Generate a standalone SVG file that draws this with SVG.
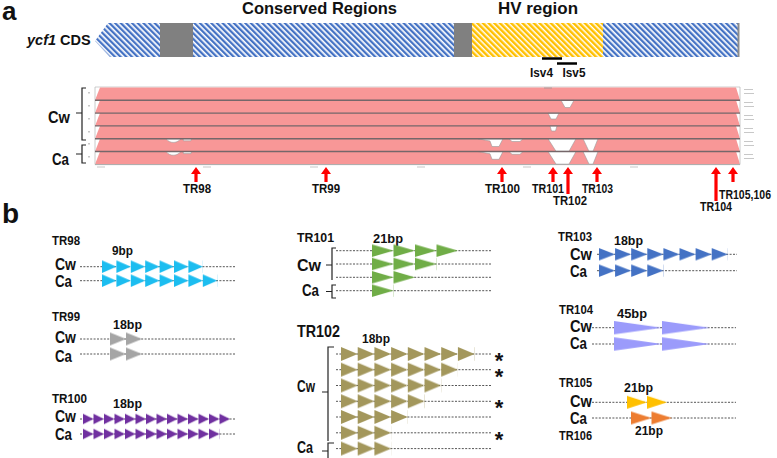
<svg xmlns="http://www.w3.org/2000/svg" width="777" height="458" viewBox="0 0 777 458">
<style>
.t{font-family:"Liberation Sans",Arial,sans-serif;font-weight:bold;fill:#111}
.dash{stroke:#555;stroke-width:1;stroke-dasharray:2 1.4;fill:none}
.br{stroke:#222;stroke-width:1.2;fill:none}
.gap{fill:#fff;stroke:#9a9a9a;stroke-width:0.6}
.sep{stroke:#75676a;stroke-width:1.4}
.arrow{fill:#ff0000}
.tiny{fill:#c8c8c8}
</style>
<defs>
<pattern id="hatchBlue" width="4" height="4" patternUnits="userSpaceOnUse" patternTransform="rotate(-45)">
<rect width="4" height="4" fill="#ffffff"/><rect width="2.3" height="4" fill="#4472C4"/>
</pattern>
<pattern id="hatchYellow" width="4" height="4" patternUnits="userSpaceOnUse" patternTransform="rotate(-45)">
<rect width="4" height="4" fill="#ffffff"/><rect width="2.5" height="4" fill="#FFC000"/>
</pattern>
<pattern id="p98" width="14.4" height="12.6" patternUnits="userSpaceOnUse"><polygon points="0,0 14.4,6.3 0,12.6" fill="#1CBDF0"/></pattern>
<pattern id="p99" width="16" height="13" patternUnits="userSpaceOnUse"><polygon points="0,0 16,6.5 0,13" fill="#A5A5A5"/></pattern>
<pattern id="p100" width="10.5" height="10.5" patternUnits="userSpaceOnUse"><polygon points="0,0 10.5,5.25 0,10.5" fill="#7030A0"/></pattern>
<pattern id="p101" width="21.5" height="12.5" patternUnits="userSpaceOnUse"><polygon points="0,0 21.5,6.25 0,12.5" fill="#70AD47"/></pattern>
<pattern id="p102" width="16.7" height="14" patternUnits="userSpaceOnUse"><polygon points="0,0 16.7,7 0,14" fill="#A3975C"/></pattern>
<pattern id="p103" width="16.1" height="12.4" patternUnits="userSpaceOnUse"><polygon points="0,0 16.1,6.2 0,12.4" fill="#4472C4"/></pattern>
<pattern id="p104" width="48" height="13.4" patternUnits="userSpaceOnUse"><polygon points="0,0 48,6.7 0,13.4" fill="#9B9BFB"/></pattern>
<pattern id="p105" width="20" height="13" patternUnits="userSpaceOnUse"><polygon points="0,0 20,6.5 0,13" fill="#FFC000"/></pattern>
<pattern id="p106" width="20.5" height="13" patternUnits="userSpaceOnUse"><polygon points="0,0 20.5,6.5 0,13" fill="#ED7D31"/></pattern>
</defs>

<rect width="777" height="458" fill="#ffffff"/>

<!-- panel a -->
<g id="label-a"><text class="t" x="2" y="20" font-size="26">a</text></g>
<g id="region-titles">
<text class="t" x="242" y="14" font-size="16.5" textLength="155" lengthAdjust="spacingAndGlyphs">Conserved Regions</text>
<text class="t" x="498" y="14" font-size="16.5" textLength="80" lengthAdjust="spacingAndGlyphs">HV region</text>
</g>
<g id="cds">
<text class="t" x="27" y="45" font-size="14.5"><tspan font-style="italic">ycf1</tspan> CDS</text>
<polygon points="108,23 738,23 738,57 110,57 95,41" fill="url(#hatchBlue)"/>
<rect x="160" y="23" width="33" height="34" fill="#808080"/>
<rect x="454" y="23" width="18" height="34" fill="#808080"/>
<rect x="472" y="23" width="131" height="34" fill="url(#hatchYellow)"/>
<rect x="737.5" y="23" width="2" height="34" fill="#8c8c8c"/>
</g>
<g id="isv">
<line x1="542" y1="58.5" x2="562" y2="58.5" stroke="#000" stroke-width="2.5"/>
<line x1="557" y1="63.5" x2="577" y2="63.5" stroke="#000" stroke-width="2.5"/>
<text class="t" x="541.5" y="77" font-size="13" text-anchor="middle" textLength="23" lengthAdjust="spacingAndGlyphs">Isv4</text>
<text class="t" x="574" y="77" font-size="13" text-anchor="middle" textLength="23" lengthAdjust="spacingAndGlyphs">Isv5</text>
</g>

<g id="alignment">
<line x1="95" y1="87" x2="740" y2="87" stroke="#cfcfcf" stroke-width="1"/>
<polygon points="95,100.3 100,87.5 736,87.5 740,100.3" fill="#F89797"/>
<polygon points="95,113.1 100,100.3 736,100.3 740,113.1" fill="#F89797"/>
<polygon points="95,125.9 100,113.1 736,113.1 740,125.9" fill="#F89797"/>
<polygon points="95,138.7 100,125.9 736,125.9 740,138.7" fill="#F89797"/>
<polygon points="95,151.5 100,138.7 736,138.7 740,151.5" fill="#F89797"/>
<polygon points="95,164.3 100,151.5 736,151.5 740,164.3" fill="#F89797"/>
<line x1="95" y1="87" x2="95" y2="164.5" stroke="#bdbdbd" stroke-width="0.8"/>
<line x1="740" y1="87" x2="740" y2="164.5" stroke="#bdbdbd" stroke-width="0.8"/>
<!-- gaps -->
<line x1="544" y1="88" x2="552" y2="88" stroke="#9a9a9a" stroke-width="0.8"/>
<path class="gap" d="M561,100.3 L565,107.5 L570,107.5 L574,100.3 Z"/>
<path class="gap" d="M548,113.1 L551,119 L556,119 L559,113.1 Z"/>
<path class="gap" d="M550,125.9 L551.5,131 L555.5,131 L557,125.9 Z"/>
<g id="gaps-ca1">
<path class="gap" d="M166,138.7 C168,141.5 171,142.6 174,142.4 C177,142.2 179,140.8 181,138.7 Z"/>
<path class="gap" d="M183,138.7 L183.5,140.8 L191,140.8 L191.5,138.7 Z"/>
<path class="gap" d="M478,138.7 L487,140.5 L490,141 L492,146.5 L499,146.5 L503,138.7 Z"/>
<path class="gap" d="M509,138.7 L512,141.5 L520,141.5 L523,138.7 Z"/>
<path class="gap" d="M548,138.7 L556,151.3 L569,151.3 L576,138.7 Z"/>
<path class="gap" d="M583,138.7 L589,151.3 L593,151.3 L598,138.7 Z"/>
</g>
<use href="#gaps-ca1" transform="translate(0,12.8)"/>
<line class="sep" x1="95" y1="100.3" x2="740" y2="100.3"/>
<line class="sep" x1="95" y1="113.1" x2="740" y2="113.1"/>
<line class="sep" x1="95" y1="125.9" x2="740" y2="125.9"/>
<line class="sep" x1="95" y1="138.7" x2="740" y2="138.7"/>
<line class="sep" x1="95" y1="151.5" x2="740" y2="151.5"/>
<line x1="95" y1="164.6" x2="740" y2="164.6" stroke="#a8a8a8" stroke-width="1"/>
<!-- row markers and axis ticks -->
<rect class="tiny" x="88" y="92" width="2" height="1.5"/>
<rect class="tiny" x="88" y="105" width="2" height="1.5"/>
<rect class="tiny" x="88" y="118" width="2" height="1.5"/>
<rect class="tiny" x="88" y="131" width="2" height="1.5"/>
<rect class="tiny" x="88" y="143" width="2" height="1.5"/>
<rect class="tiny" x="88" y="156" width="2" height="1.5"/>
<rect class="tiny" x="744" y="89" width="9" height="1"/><rect class="tiny" x="744" y="93" width="10" height="1"/>
<rect class="tiny" x="744" y="102" width="9" height="1"/><rect class="tiny" x="744" y="106" width="10" height="1"/>
<rect class="tiny" x="744" y="115" width="9" height="1"/><rect class="tiny" x="744" y="119" width="10" height="1"/>
<rect class="tiny" x="744" y="128" width="9" height="1"/><rect class="tiny" x="744" y="132" width="10" height="1"/>
<rect class="tiny" x="744" y="141" width="9" height="1"/><rect class="tiny" x="744" y="145" width="10" height="1"/>
<rect class="tiny" x="744" y="154" width="9" height="1"/><rect class="tiny" x="744" y="158" width="10" height="1"/>
<rect class="tiny" x="97" y="166.5" width="8" height="1"/>
<rect class="tiny" x="203" y="166.5" width="8" height="1"/>
<rect class="tiny" x="310" y="166.5" width="8" height="1"/>
<rect class="tiny" x="417" y="166.5" width="8" height="1"/>
<rect class="tiny" x="523" y="166.5" width="8" height="1"/>
<rect class="tiny" x="630" y="166.5" width="8" height="1"/>
</g>
<g id="groups-a">
<path class="br" d="M86,88 H82 V140 H86 M76,113 H82"/>
<path class="br" d="M86,145 H82 V163 H86 M76,154 H82"/>
<text class="t" x="48" y="123" font-size="17" textLength="22" lengthAdjust="spacingAndGlyphs">Cw</text>
<text class="t" x="52" y="165" font-size="17" textLength="17" lengthAdjust="spacingAndGlyphs">Ca</text>
</g>

<g id="connectors">
<polygon class="arrow" points="196,167 201,174 197.6,174 197.6,182 194.4,182 194.4,174 191,174"/>
<polygon class="arrow" points="326,167 331,174 327.6,174 327.6,182 324.4,182 324.4,174 321,174"/>
<polygon class="arrow" points="502,167 507,174 503.6,174 503.6,182 500.4,182 500.4,174 497,174"/>
<polygon class="arrow" points="553,167 558,174 554.6,174 554.6,182 551.4,182 551.4,174 548,174"/>
<polygon class="arrow" points="568,167 573,174 569.6,174 569.6,194 566.4,194 566.4,174 563,174"/>
<polygon class="arrow" points="597,167 602,174 598.6,174 598.6,182 595.4,182 595.4,174 592,174"/>
<polygon class="arrow" points="716,167 721,174 717.6,174 717.6,201 714.4,201 714.4,174 711,174"/>
<polygon class="arrow" points="733,167 738,174 734.6,174 734.6,182 731.4,182 731.4,174 728,174"/>
</g>
<g id="tr-labels-a">
<text class="t" x="197" y="193" font-size="13.5" text-anchor="middle" textLength="28" lengthAdjust="spacingAndGlyphs">TR98</text>
<text class="t" x="326" y="193" font-size="13.5" text-anchor="middle" textLength="28" lengthAdjust="spacingAndGlyphs">TR99</text>
<text class="t" x="502.5" y="193" font-size="13.5" text-anchor="middle" textLength="35" lengthAdjust="spacingAndGlyphs">TR100</text>
<text class="t" x="548" y="193" font-size="13.5" text-anchor="middle" textLength="32" lengthAdjust="spacingAndGlyphs">TR101</text>
<text class="t" x="570" y="205" font-size="13.5" text-anchor="middle" textLength="34" lengthAdjust="spacingAndGlyphs">TR102</text>
<text class="t" x="597.5" y="193" font-size="13.5" text-anchor="middle" textLength="31" lengthAdjust="spacingAndGlyphs">TR103</text>
<text class="t" x="716" y="211" font-size="13.5" text-anchor="middle" textLength="32" lengthAdjust="spacingAndGlyphs">TR104</text>
<text class="t" x="719" y="199" font-size="13.5" textLength="52" lengthAdjust="spacingAndGlyphs">TR105,106</text>
</g>

<!-- panel b -->
<g id="label-b"><text class="t" x="2" y="223" font-size="28">b</text></g>

<g id="tr98">
<text class="t" x="52" y="245" font-size="13.5" textLength="28" lengthAdjust="spacingAndGlyphs">TR98</text>
<text class="t" x="112" y="255" font-size="13.5" textLength="21" lengthAdjust="spacingAndGlyphs">9bp</text>
<text class="t" x="55" y="270" font-size="17" textLength="21" lengthAdjust="spacingAndGlyphs">Cw</text>
<text class="t" x="55" y="287" font-size="17" textLength="17" lengthAdjust="spacingAndGlyphs">Ca</text>
<line class="dash" x1="80" y1="266.7" x2="235" y2="266.7"/>
<line class="dash" x1="80" y1="280.7" x2="235" y2="280.7"/>
<rect transform="translate(102,260.4)" width="100.8" height="12.6" fill="url(#p98)"/>
<rect transform="translate(102,274.4)" width="115.2" height="12.6" fill="url(#p98)"/>
</g>

<g id="tr99">
<text class="t" x="52" y="321" font-size="13.5" textLength="28" lengthAdjust="spacingAndGlyphs">TR99</text>
<text class="t" x="113" y="329" font-size="13.5" textLength="29" lengthAdjust="spacingAndGlyphs">18bp</text>
<text class="t" x="55" y="343" font-size="17" textLength="21" lengthAdjust="spacingAndGlyphs">Cw</text>
<text class="t" x="55" y="362" font-size="17" textLength="17" lengthAdjust="spacingAndGlyphs">Ca</text>
<line class="dash" x1="80" y1="339" x2="235" y2="339"/>
<line class="dash" x1="80" y1="354" x2="235" y2="354"/>
<rect transform="translate(110,332.5)" width="32" height="13" fill="url(#p99)"/>
<rect transform="translate(110,347.5)" width="32" height="13" fill="url(#p99)"/>
</g>

<g id="tr100">
<text class="t" x="52" y="403" font-size="13.5" textLength="35" lengthAdjust="spacingAndGlyphs">TR100</text>
<text class="t" x="113" y="408" font-size="13.5" textLength="29" lengthAdjust="spacingAndGlyphs">18bp</text>
<text class="t" x="55" y="422" font-size="17" textLength="21" lengthAdjust="spacingAndGlyphs">Cw</text>
<text class="t" x="55" y="440" font-size="17" textLength="17" lengthAdjust="spacingAndGlyphs">Ca</text>
<line class="dash" x1="80" y1="419" x2="235" y2="419"/>
<line class="dash" x1="80" y1="434" x2="235" y2="434"/>
<rect transform="translate(83,413.75)" width="147" height="10.5" fill="url(#p100)"/>
<rect transform="translate(83,428.75)" width="136.5" height="10.5" fill="url(#p100)"/>
</g>

<g id="tr101">
<text class="t" x="297" y="242" font-size="13.5" textLength="37" lengthAdjust="spacingAndGlyphs">TR101</text>
<text class="t" x="373" y="243" font-size="13.5" textLength="30" lengthAdjust="spacingAndGlyphs">21bp</text>
<text class="t" x="297" y="271" font-size="17" textLength="24" lengthAdjust="spacingAndGlyphs">Cw</text>
<text class="t" x="302" y="296" font-size="17" textLength="17" lengthAdjust="spacingAndGlyphs">Ca</text>
<path class="br" d="M336,248 H332 V280 M326,265 H332"/>
<path class="br" d="M336,285 H332 V298 H336 M326,291.5 H332"/>
<line class="dash" x1="336" y1="250.7" x2="492" y2="250.7"/>
<line class="dash" x1="336" y1="264" x2="492" y2="264"/>
<line class="dash" x1="336" y1="277.3" x2="492" y2="277.3"/>
<line class="dash" x1="336" y1="290.7" x2="492" y2="290.7"/>
<rect transform="translate(372,244.45)" width="86" height="12.5" fill="url(#p101)"/>
<rect transform="translate(372,257.75)" width="64.5" height="12.5" fill="url(#p101)"/>
<rect transform="translate(372,271.05)" width="43" height="12.5" fill="url(#p101)"/>
<rect transform="translate(372,284.45)" width="21.5" height="12.5" fill="url(#p101)"/>
</g>

<g id="tr102">
<text class="t" x="297" y="337" font-size="16.5" textLength="43" lengthAdjust="spacingAndGlyphs">TR102</text>
<text class="t" x="362" y="343" font-size="13.5" textLength="28" lengthAdjust="spacingAndGlyphs">18bp</text>
<text class="t" x="297" y="392" font-size="17" textLength="18" lengthAdjust="spacingAndGlyphs">Cw</text>
<text class="t" x="297" y="453" font-size="17" textLength="16" lengthAdjust="spacingAndGlyphs">Ca</text>
<path class="br" d="M334,347 H328 V441 M322,392 H328"/>
<path class="br" d="M334,443 H328 V458 M322,451 H328"/>
<line class="dash" x1="336" y1="354" x2="492" y2="354"/>
<line class="dash" x1="336" y1="369.7" x2="492" y2="369.7"/>
<line class="dash" x1="336" y1="385.5" x2="492" y2="385.5"/>
<line class="dash" x1="336" y1="401.3" x2="492" y2="401.3"/>
<line class="dash" x1="336" y1="417" x2="492" y2="417"/>
<line class="dash" x1="336" y1="432.8" x2="492" y2="432.8"/>
<line class="dash" x1="336" y1="448.6" x2="492" y2="448.6"/>
<rect transform="translate(341,347)" width="133.6" height="14" fill="url(#p102)"/>
<rect transform="translate(341,362.7)" width="116.9" height="14" fill="url(#p102)"/>
<rect transform="translate(341,378.5)" width="100.2" height="14" fill="url(#p102)"/>
<rect transform="translate(341,394.3)" width="83.5" height="14" fill="url(#p102)"/>
<rect transform="translate(341,410)" width="66.8" height="14" fill="url(#p102)"/>
<rect transform="translate(341,425.8)" width="50.1" height="14" fill="url(#p102)"/>
<rect transform="translate(341,441.6)" width="50.1" height="14" fill="url(#p102)"/>
<text class="t" x="499" y="368" font-size="22" text-anchor="middle">*</text>
<text class="t" x="499" y="383.7" font-size="22" text-anchor="middle">*</text>
<text class="t" x="499" y="415.3" font-size="22" text-anchor="middle">*</text>
<text class="t" x="499" y="446.8" font-size="22" text-anchor="middle">*</text>
</g>

<g id="tr103">
<text class="t" x="558" y="241" font-size="13.5" textLength="34" lengthAdjust="spacingAndGlyphs">TR103</text>
<text class="t" x="614" y="245" font-size="13.5" textLength="29" lengthAdjust="spacingAndGlyphs">18bp</text>
<text class="t" x="570" y="260" font-size="17" textLength="22" lengthAdjust="spacingAndGlyphs">Cw</text>
<text class="t" x="570" y="277" font-size="17" textLength="17" lengthAdjust="spacingAndGlyphs">Ca</text>
<line class="dash" x1="597" y1="254.3" x2="737" y2="254.3"/>
<line class="dash" x1="597" y1="270.7" x2="737" y2="270.7"/>
<rect transform="translate(599,248.1)" width="128.8" height="12.4" fill="url(#p103)"/>
<rect transform="translate(599,264.5)" width="64.4" height="12.4" fill="url(#p103)"/>
</g>

<g id="tr104">
<text class="t" x="559" y="314" font-size="13.5" textLength="34" lengthAdjust="spacingAndGlyphs">TR104</text>
<text class="t" x="617" y="318" font-size="13.5" textLength="30" lengthAdjust="spacingAndGlyphs">45bp</text>
<text class="t" x="570" y="332" font-size="17" textLength="22" lengthAdjust="spacingAndGlyphs">Cw</text>
<text class="t" x="570" y="349" font-size="17" textLength="17" lengthAdjust="spacingAndGlyphs">Ca</text>
<line class="dash" x1="592" y1="327.7" x2="736" y2="327.7"/>
<line class="dash" x1="592" y1="344" x2="736" y2="344"/>
<rect transform="translate(614,321)" width="96" height="13.4" fill="url(#p104)"/>
<rect transform="translate(614,337.3)" width="96" height="13.4" fill="url(#p104)"/>
</g>

<g id="tr105-106">
<text class="t" x="559" y="387" font-size="13.5" textLength="33" lengthAdjust="spacingAndGlyphs">TR105</text>
<text class="t" x="624" y="392" font-size="13.5" textLength="29" lengthAdjust="spacingAndGlyphs">21bp</text>
<text class="t" x="570" y="407" font-size="17" textLength="22" lengthAdjust="spacingAndGlyphs">Cw</text>
<text class="t" x="570" y="424" font-size="17" textLength="17" lengthAdjust="spacingAndGlyphs">Ca</text>
<line class="dash" x1="592" y1="402.3" x2="736" y2="402.3"/>
<line class="dash" x1="592" y1="418" x2="736" y2="418"/>
<rect transform="translate(627,395.8)" width="40" height="13" fill="url(#p105)"/>
<rect transform="translate(631,411.5)" width="41" height="13" fill="url(#p106)"/>
<text class="t" x="635" y="435" font-size="13.5" textLength="28" lengthAdjust="spacingAndGlyphs">21bp</text>
<text class="t" x="559" y="440" font-size="13.5" textLength="33" lengthAdjust="spacingAndGlyphs">TR106</text>
</g>
</svg>
